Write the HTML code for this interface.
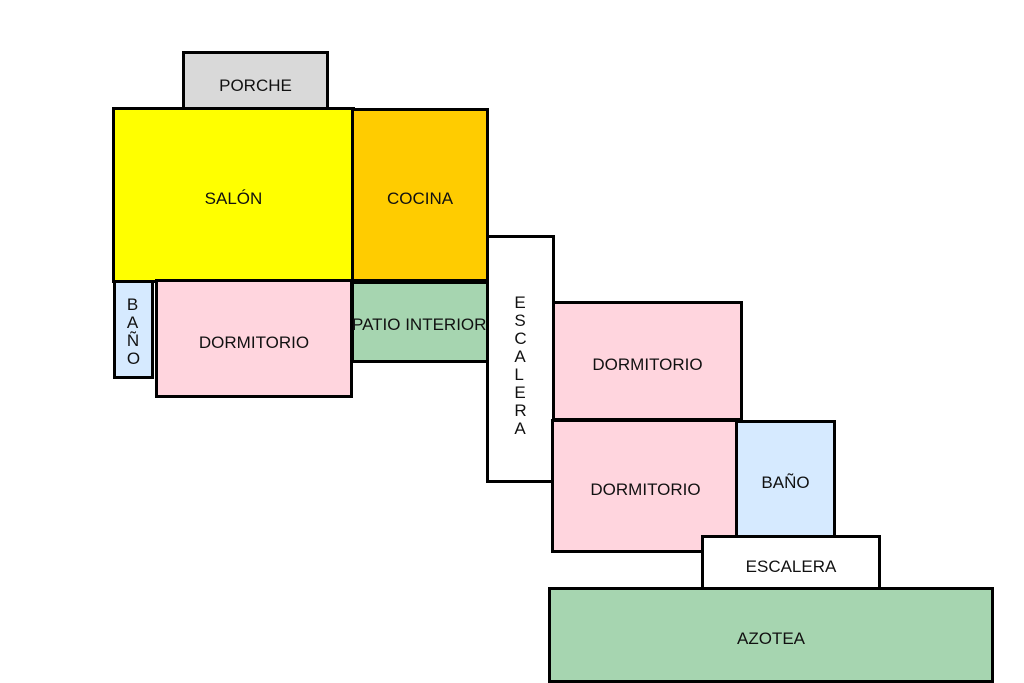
<!DOCTYPE html>
<html><head><style>
body{margin:0;width:1024px;height:682px;background:#fff;position:relative;overflow:hidden;font-family:"Liberation Sans",Arial,sans-serif;}
.r{position:absolute;box-sizing:border-box;border:3px solid #000;display:flex;align-items:center;justify-content:center;font-size:17px;color:#111;white-space:nowrap;padding-top:8px;}
</style></head><body>
<div class="r" style="left:182px;top:51px;width:147px;height:62px;background:#d9d9d9;">PORCHE</div>
<div class="r" style="left:112px;top:107px;width:243px;height:176px;background:#ffff00;">SALÓN</div>
<div class="r" style="left:351px;top:108px;width:138px;height:174px;background:#ffcc00;">COCINA</div>
<div class="r" style="left:351px;top:281px;width:138px;height:82px;background:#a6d5b0;justify-content:flex-start;padding-top:6px;"><span style="margin-left:-2px">PATIO INTERIOR</span></div>
<div class="r" style="left:113px;top:280px;width:41px;height:99px;background:#d6eaff;flex-direction:column;line-height:18px;padding-top:4px;">B<br>A<br>Ñ<br>O</div>
<div class="r" style="left:155px;top:279px;width:198px;height:119px;background:#ffd5de;">DORMITORIO</div>
<div class="r" style="left:486px;top:235px;width:69px;height:248px;background:#fff;flex-direction:column;line-height:18px;justify-content:flex-start;padding-top:56px;">E<br>S<br>C<br>A<br>L<br>E<br>R<br>A</div>
<div class="r" style="left:552px;top:301px;width:191px;height:120px;background:#ffd5de;">DORMITORIO</div>
<div class="r" style="left:551px;top:419px;width:189px;height:134px;background:#ffd5de;">DORMITORIO</div>
<div class="r" style="left:735px;top:420px;width:101px;height:118px;background:#d6eaff;">BAÑO</div>
<div class="r" style="left:701px;top:535px;width:180px;height:55px;background:#fff;">ESCALERA</div>
<div class="r" style="left:548px;top:587px;width:446px;height:96px;background:#a6d5b0;">AZOTEA</div>
</body></html>
